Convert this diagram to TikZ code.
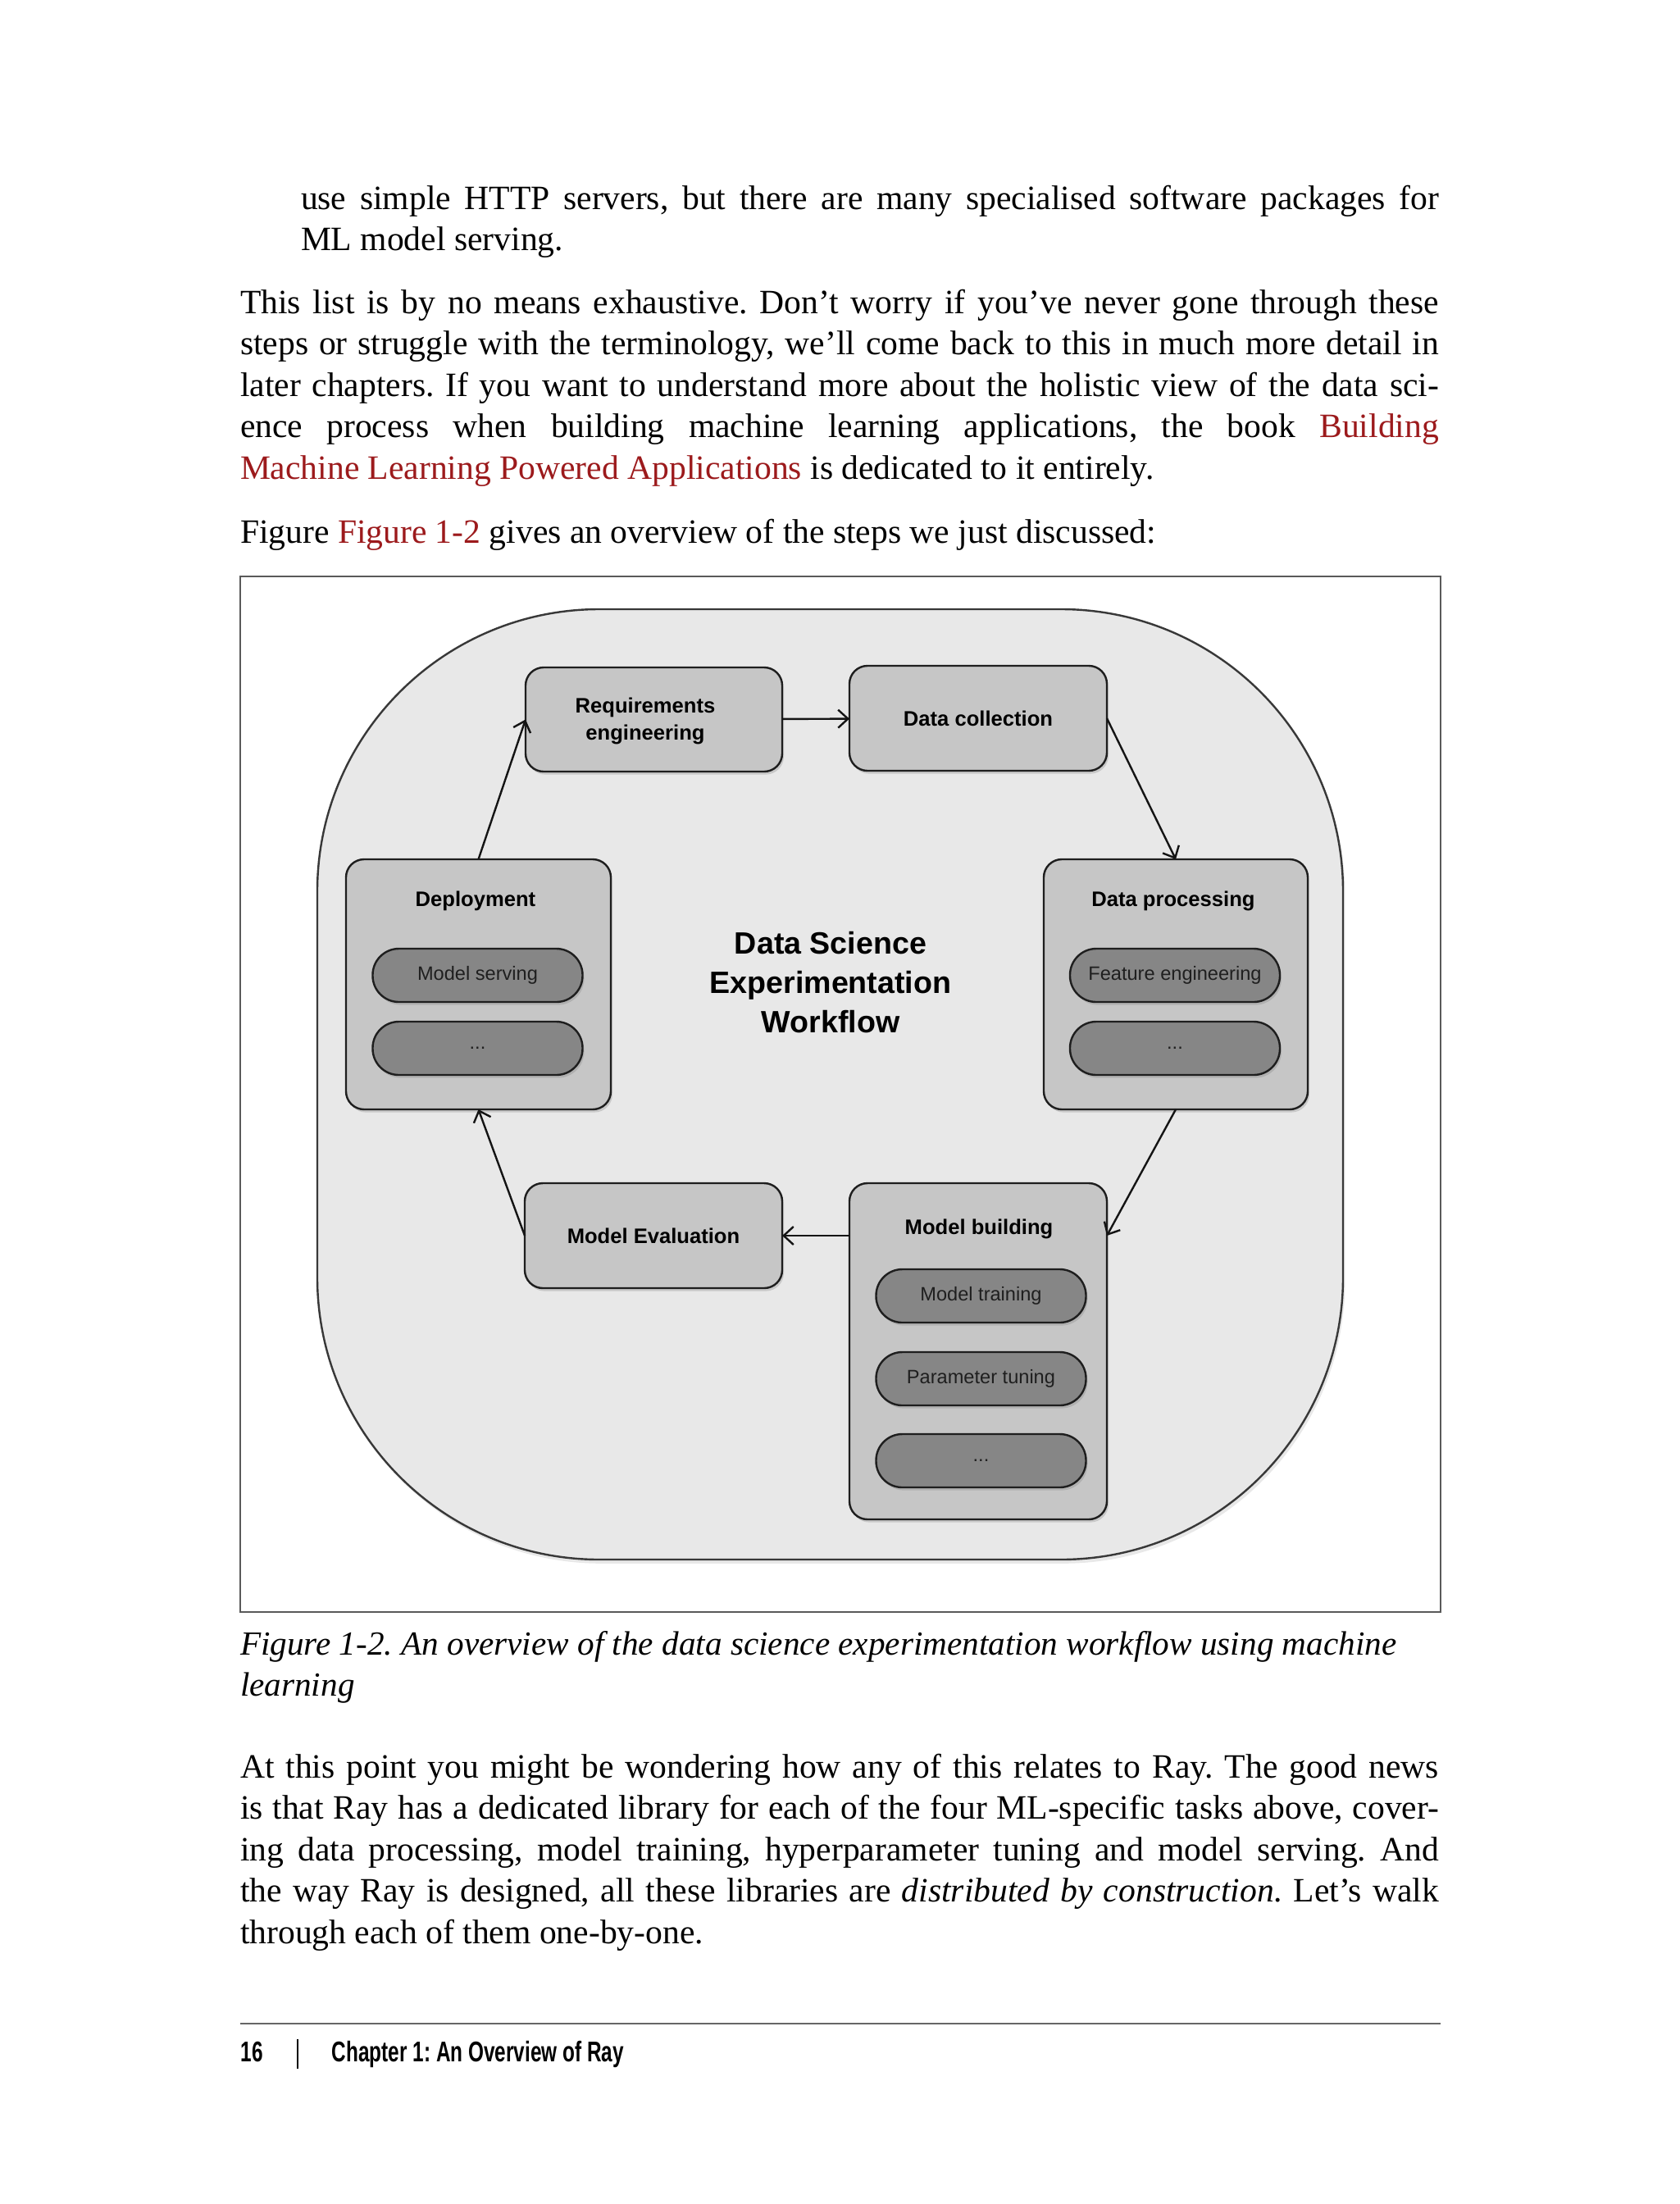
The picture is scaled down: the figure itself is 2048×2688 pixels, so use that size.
\documentclass[tikz,border=0pt]{standalone}
\usepackage{fontspec}
\setmainfont{Liberation Serif}
\newfontfamily\diagfont{Liberation Sans}
\newfontfamily\footfont[FakeStretch=0.70]{Liberation Sans}
\usetikzlibrary{arrows.meta,shadows}
\definecolor{linkred}{HTML}{9C1A1C}
\definecolor{outerfill}{HTML}{E8E8E8}
\definecolor{boxfill}{HTML}{C6C6C6}
\definecolor{pillfill}{HTML}{868686}
\definecolor{edge}{HTML}{1E1E1E}
\newcommand{\bodysize}{\fontsize{10.4pt}{12.6pt}\selectfont\frenchspacing}
\newcommand{\captsize}{\fontsize{10.3pt}{12.6pt}\selectfont\frenchspacing}
\newcommand{\titlefont}{\diagfont\bfseries\fontsize{6.4pt}{8.25pt}\selectfont}
\newcommand{\pillfont}{\diagfont\fontsize{5.9pt}{7pt}\selectfont}
\newcommand{\lnk}[1]{\textcolor{linkred}{#1}}
\frenchspacing
\begin{document}
\begin{tikzpicture}[x=0.25pt,y=-0.25pt,
  body/.style={anchor=base west, inner sep=0pt, outer sep=0pt, font=\bodysize, text=black},
  outershape/.style={draw=black!78, fill=outerfill, line width=0.6pt, rounded corners=86pt,
    inner sep=0pt, outer sep=0pt,
    drop shadow={shadow xshift=0.6pt, shadow yshift=-1.2pt, opacity=0.18}},
  stepbox/.style={draw=edge, fill=boxfill, line width=0.6pt, rounded corners=5.5pt,
    inner sep=0pt, outer sep=0pt, align=center, font=\titlefont, text=black,
    drop shadow={shadow xshift=0.5pt, shadow yshift=-0.9pt, opacity=0.3}},
  pill/.style={draw=edge, fill=pillfill, line width=0.6pt, rounded corners=8pt,
    minimum width=64pt, minimum height=16.25pt, inner sep=0pt, outer sep=0pt,
    font=\pillfont, text=black!88,
    drop shadow={shadow xshift=0.5pt, shadow yshift=-0.9pt, opacity=0.3}},
  boxtitle/.style={inner sep=0pt, font=\titlefont, text=black, align=center},
  flow/.style={draw=black!92, line width=0.6pt, -{Straight Barb[length=3pt,width=5.5pt]}},
]
\useasboundingbox[fill=white] (0,0) rectangle (2048,2688);

% ---------- text above ----------
\node[body] (t1) at (367,255) {\makebox[347pt][s]{use simple HTTP servers, but there are many specialised software packages for}};
\node[body] (t2) at (367,305.5) {ML model serving.};
\node[body] (p1) at (293,382) {\makebox[365.5pt][s]{This list is by no means exhaustive. Don’t worry if you’ve never gone through these}};
\node[body] (p2) at (293,432.5) {\makebox[365.5pt][s]{steps or struggle with the terminology, we’ll come back to this in much more detail in}};
\node[body] (p3) at (293,483) {\makebox[365.5pt][s]{later chapters. If you want to understand more about the holistic view of the data sci-}};
\node[body] (p4) at (293,533.5) {\makebox[365.5pt][s]{ence process when building machine learning applications, the book \lnk{Building}}};
\node[body] (p5) at (293,584) {\lnk{Machine Learning Powered Applications} is dedicated to it entirely.};
\node[body] (p6) at (293,662) {Figure \lnk{Figure 1-2} gives an overview of the steps we just discussed:};

% ---------- figure frame ----------
\node[draw=black!65, line width=0.5pt, minimum width=366pt, minimum height=315.75pt, inner sep=0pt] (frame) at (1025,1334.5) {};

% ---------- diagram ----------
\node[outershape, minimum width=312.75pt, minimum height=289.75pt] (bg) at (1012.5,1322.5) {};

\node[stepbox, minimum width=78.25pt, minimum height=31.75pt] (req) at (797.5,877.5) {};
\node[stepbox, minimum width=78.5pt, minimum height=32pt] (dc) at (1193,876) {Data collection};
\node[stepbox, minimum width=80.75pt, minimum height=76.25pt] (dep) at (583.5,1200.5) {};
\node[stepbox, minimum width=80.5pt, minimum height=76.25pt] (dp) at (1434,1200.5) {};
\node[stepbox, minimum width=78.5pt, minimum height=32pt] (me) at (797,1507) {Model Evaluation};
\node[stepbox, minimum width=78.5pt, minimum height=102.5pt] (mb) at (1193,1648) {};

\node[boxtitle] (reqT) at (787,879) {Requirements\\engineering};
\node[boxtitle] (depT) at (580,1099) {Deployment};
\node[boxtitle] (dpT) at (1431,1099) {Data processing};
\node[boxtitle] (mbT) at (1194,1499) {Model building};

\node[pill] (ms) at (582.5,1189.5) {Model serving};
\node[pill] (dep2) at (582.5,1278.5) {...};
\node[pill] (fe) at (1433,1189.5) {Feature engineering};
\node[pill] (dp2) at (1433,1278.5) {...};
\node[pill] (mt) at (1196.5,1580.5) {Model training};
\node[pill] (pt) at (1196.5,1681.5) {Parameter tuning};
\node[pill] (mb3) at (1196.5,1781.5) {...};

\node[align=center, inner sep=0pt, text=black,
  font=\diagfont\bfseries\fontsize{9.4pt}{12pt}\selectfont] (ctr) at (1013,1198)
  {Data Science\\Experimentation\\Workflow};

\draw[flow] (req) -- (dc);
\draw[flow] (dc.east) -- (dp.north);
\draw[flow] (dp.south) -- (mb.east |- me.east);
\draw[flow] (mb.west |- me.east) -- (me.east);
\draw[flow] (me.west) -- (dep.south);
\draw[flow] (dep.north) -- (req.west);

% ---------- caption ----------
\node[body, font=\captsize\itshape] (c1) at (293,2018) {Figure 1-2. An overview of the data science experimentation workflow using machine};
\node[body, font=\captsize\itshape] (c2) at (293,2068) {learning};

% ---------- text below ----------
\node[body] (q1) at (293,2168) {\makebox[365.5pt][s]{At this point you might be wondering how any of this relates to Ray. The good news}};
\node[body] (q2) at (293,2218.5) {\makebox[365.5pt][s]{is that Ray has a dedicated library for each of the four ML-specific tasks above, cover-}};
\node[body] (q3) at (293,2269) {\makebox[365.5pt][s]{ing data processing, model training, hyperparameter tuning and model serving. And}};
\node[body] (q4) at (293,2319.5) {\makebox[365.5pt][s]{the way Ray is designed, all these libraries are \textit{distributed by construction}. Let’s walk}};
\node[body] (q5) at (293,2370) {through each of them one-by-one.};

% ---------- footer ----------
\draw[draw=black!60, line width=0.55pt] (293,2468) -- (1757,2468);
\node[anchor=base west, inner sep=0pt, font=\footfont\bfseries\fontsize{8.7pt}{10pt}\selectfont] (pg) at (293,2514) {16};
\draw[line width=0.4pt] (363,2487) -- (363,2523);
\node[anchor=base west, inner sep=0pt, font=\footfont\bfseries\fontsize{8.7pt}{10pt}\selectfont] (chap) at (404,2514) {Chapter 1: An Overview of Ray};
\end{tikzpicture}
\end{document}
